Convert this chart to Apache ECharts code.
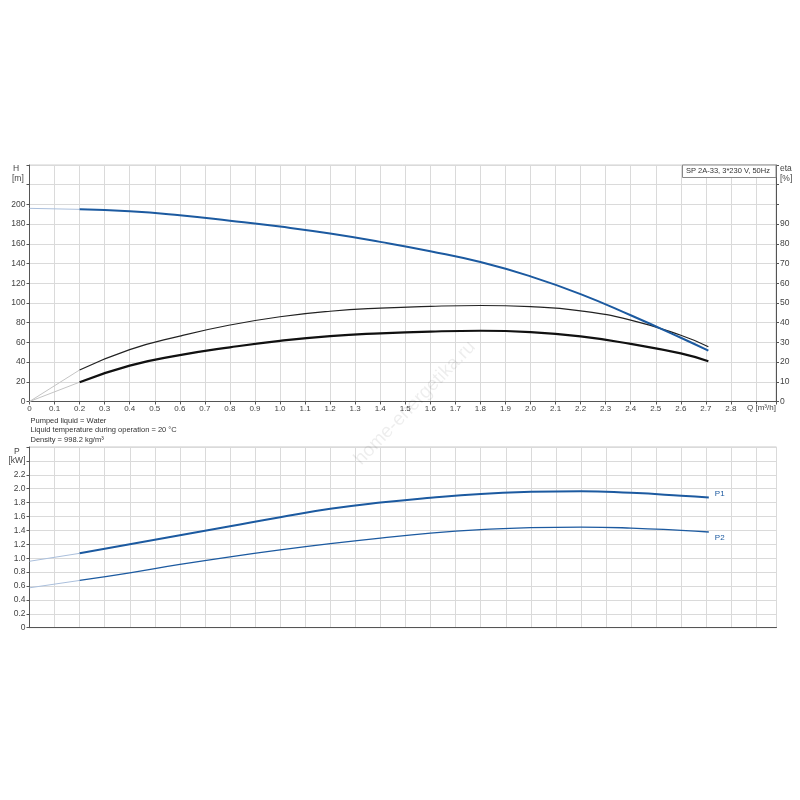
<!DOCTYPE html>
<html>
<head>
<meta charset="utf-8">
<script src="https://cdn.jsdelivr.net/npm/echarts@6/dist/echarts.min.js"></script>
<style>html,body{margin:0;padding:0;background:#fff}#c{width:800px;height:800px}</style>
</head>
<body>
<div id="c"></div>
<script>
// Flow rates (m³/h)
const qMain = [0.2, 0.4, 0.6, 0.8, 1.0, 1.2, 1.4, 1.6, 1.8, 2.0, 2.2, 2.4, 2.6, 2.71];
const qStart = [0, 0.2];
// Head H [m]
const head = [195, 193.1, 189, 183.5, 177.5, 170.5, 162, 152.5, 141.5, 127, 109, 87.5, 64.7, 51.6];
const headStart = [196, 195];
// Efficiencies [%]
const eta1 = [16, 26.3, 33.2, 38.8, 43, 45.8, 47.4, 48.3, 48.7, 48.1, 46, 41.3, 33.6, 27.8];
const eta1Start = [0, 16];
const eta2 = [9.8, 18.2, 23.5, 27.5, 30.8, 33.2, 34.6, 35.5, 35.9, 35.2, 33, 29.2, 24.4, 20.4];
const eta2Start = [0, 9.8];
// Power [kW]
const p1 = [1.07, 1.2, 1.33, 1.46, 1.59, 1.71, 1.80, 1.87, 1.925, 1.955, 1.965, 1.94, 1.90, 1.874];
const p1Start = [0.956, 1.07];
const p2 = [0.68, 0.79, 0.91, 1.02, 1.12, 1.21, 1.29, 1.36, 1.41, 1.44, 1.448, 1.434, 1.40, 1.377];
const p2Start = [0.574, 0.68];

const textLines = ['Pumped liquid = Water', 'Liquid temperature during operation = 20 °C', 'Density = 998.2 kg/m³'];
const pumpTitle = 'SP 2A-33, 3*230 V, 50Hz';

const zip = (xs, ys) => xs.map((x, i) => [x, ys[i]]);
const FONT = 'Liberation Sans, Arial, sans-serif';
const AX = '#555';
const GRID = '#dadada';
const BLUE = '#1c5aa0';

const chart = echarts.init(document.getElementById('c'), null, {renderer: 'canvas'});

function xAxisCfg(gridIndex, showLabels) {
  return {
    type: 'value', gridIndex: gridIndex, min: 0, max: 2.98, interval: 0.1,
    axisLine: {show: true, onZero: false, lineStyle: {color: AX, width: 1}},
    axisTick: {show: showLabels, length: 3, lineStyle: {color: AX}},
    axisLabel: {show: showLabels, fontSize: 8, color: '#444', fontFamily: FONT, margin: 3,
      formatter: v => (v > 2.85 ? '' : (v === 0 ? '0' : v.toFixed(1)))},
    splitLine: {show: true, lineStyle: {color: GRID, width: 1}}
  };
}

const option = {
  animation: false,
  backgroundColor: '#fff',
  textStyle: {fontFamily: FONT},
  grid: [
    {left: 29.5, right: 24, top: 165, height: 236.5, show: true, borderColor: '#d0d0d0', borderWidth: 1},
    {left: 29.5, right: 23.5, top: 447, height: 180.7, show: true, borderColor: '#c8c8c8', borderWidth: 1}
  ],
  xAxis: [xAxisCfg(0, true), xAxisCfg(1, false)],
  yAxis: [
    {type: 'value', gridIndex: 0, min: 0, max: 240, interval: 20, position: 'left',
      axisLine: {show: true, lineStyle: {color: AX}},
      axisTick: {show: true, length: 3, lineStyle: {color: AX}},
      axisLabel: {fontSize: 8.5, color: '#444', fontFamily: FONT, margin: 4,
        formatter: v => (v > 200 ? '' : String(v))},
      splitLine: {show: true, lineStyle: {color: GRID}}},
    {type: 'value', gridIndex: 0, min: 0, max: 120, interval: 10, position: 'right',
      axisLine: {show: true, lineStyle: {color: AX}},
      axisTick: {show: true, length: 3, lineStyle: {color: AX}},
      axisLabel: {fontSize: 8.5, color: '#444', fontFamily: FONT, margin: 4,
        formatter: v => (v > 90 ? '' : String(v))},
      splitLine: {show: false}},
    {type: 'value', gridIndex: 1, min: 0, max: 2.6, interval: 0.2, position: 'left',
      axisLine: {show: true, lineStyle: {color: AX}},
      axisTick: {show: true, length: 3, lineStyle: {color: AX}},
      axisLabel: {fontSize: 8.5, color: '#444', fontFamily: FONT, margin: 4,
        formatter: v => {
          if (v > 2.5) return '';
          if (v > 2.3) return '[kW]';
          return v === 0 ? '0' : v.toFixed(1);
        }},
      splitLine: {show: true, lineStyle: {color: GRID}}}
  ],
  series: [
    // start segments (thin, light)
    {type: 'line', xAxisIndex: 0, yAxisIndex: 1, data: zip(qStart, eta1Start), showSymbol: false,
      lineStyle: {color: '#c4c4c4', width: 1}, z: 2},
    {type: 'line', xAxisIndex: 0, yAxisIndex: 1, data: zip(qStart, eta2Start), showSymbol: false,
      lineStyle: {color: '#c4c4c4', width: 1}, z: 2},
    {type: 'line', xAxisIndex: 0, yAxisIndex: 0, data: zip(qStart, headStart), showSymbol: false,
      lineStyle: {color: '#aabfdc', width: 1}, z: 2},
    {type: 'line', xAxisIndex: 1, yAxisIndex: 2, data: zip(qStart, p1Start), showSymbol: false,
      lineStyle: {color: '#aabfdc', width: 1}, z: 2},
    {type: 'line', xAxisIndex: 1, yAxisIndex: 2, data: zip(qStart, p2Start), showSymbol: false,
      lineStyle: {color: '#aabfdc', width: 1}, z: 2},
    // main curves
    {name: 'eta', type: 'line', xAxisIndex: 0, yAxisIndex: 1, data: zip(qMain, eta1), smooth: true, showSymbol: false,
      lineStyle: {color: '#222', width: 1.2}, z: 3},
    {name: 'eta total', type: 'line', xAxisIndex: 0, yAxisIndex: 1, data: zip(qMain, eta2), smooth: true, showSymbol: false,
      lineStyle: {color: '#111', width: 2.2}, z: 3},
    {name: 'H', type: 'line', xAxisIndex: 0, yAxisIndex: 0, data: zip(qMain, head), smooth: true, showSymbol: false,
      lineStyle: {color: BLUE, width: 2}, z: 4},
    {name: 'P1', type: 'line', xAxisIndex: 1, yAxisIndex: 2, data: zip(qMain, p1), smooth: true, showSymbol: false,
      lineStyle: {color: BLUE, width: 2}, z: 4,
      endLabel: {show: true, formatter: 'P1', color: BLUE, fontSize: 8, fontFamily: FONT, distance: 2, offset: [4, -4]}},
    {name: 'P2', type: 'line', xAxisIndex: 1, yAxisIndex: 2, data: zip(qMain, p2), smooth: true, showSymbol: false,
      lineStyle: {color: BLUE, width: 1.3}, z: 4,
      endLabel: {show: true, formatter: 'P2', color: BLUE, fontSize: 8, fontFamily: FONT, distance: 2, offset: [4, 6]}}
  ],
  graphic: [
    {type: 'text', left: 13, top: 164, style: {text: 'H', fontSize: 8.5, fill: '#444', fontFamily: FONT}},
    {type: 'text', left: 12, top: 174, style: {text: '[m]', fontSize: 8.5, fill: '#444', fontFamily: FONT}},
    {type: 'text', left: 780, top: 164, style: {text: 'eta', fontSize: 8.5, fill: '#444', fontFamily: FONT}},
    {type: 'text', left: 780, top: 174, style: {text: '[%]', fontSize: 8.5, fill: '#444', fontFamily: FONT}},
    {type: 'text', left: 747, top: 404, style: {text: 'Q [m³/h]', fontSize: 8, fill: '#444', fontFamily: FONT}},
    {type: 'text', left: 14, top: 447, style: {text: 'P', fontSize: 8.5, fill: '#444', fontFamily: FONT}},
    {type: 'rect', shape: {x: 682.5, y: 165, width: 93.5, height: 12.5},
      style: {fill: '#fff', stroke: '#888', lineWidth: 1}, z: 10},
    {type: 'text', left: 686, top: 167, z: 11, style: {text: pumpTitle, fontSize: 7.5, fill: '#333', fontFamily: FONT}},
    {type: 'text', left: 30.5, top: 416.5, style: {text: textLines[0], fontSize: 7.5, fill: '#333', fontFamily: FONT}},
    {type: 'text', left: 30.5, top: 426, style: {text: textLines[1], fontSize: 7.5, fill: '#333', fontFamily: FONT}},
    {type: 'text', left: 30.5, top: 435.5, style: {text: textLines[2], fontSize: 7.5, fill: '#333', fontFamily: FONT}},
    {type: 'text', x: 415, y: 403, rotation: 0.8, z: 20,
      style: {text: 'home-energetika.ru', fontSize: 19, fill: 'rgba(0,0,0,0.07)', fontFamily: FONT,
        textAlign: 'center', textVerticalAlign: 'middle'}}
  ]
};
chart.setOption(option);
</script>
</body>
</html>
